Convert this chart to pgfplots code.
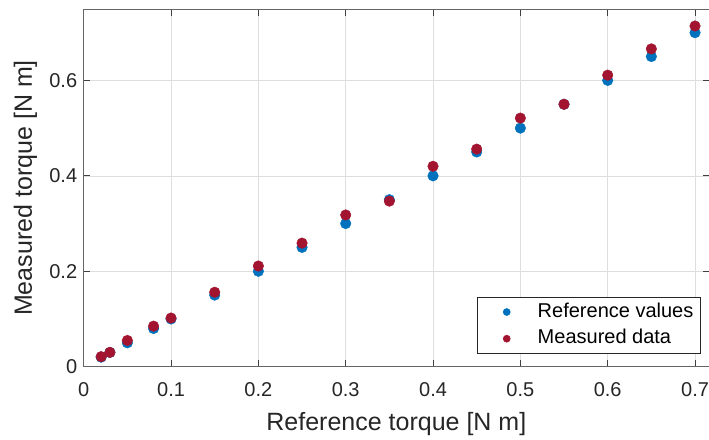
\documentclass[border=0pt]{standalone}
\usepackage{fontspec}
\setmainfont{Liberation Sans}
\usepackage{pgfplots}
\pgfplotsset{compat=1.18}
\definecolor{mblue}{rgb}{0,0.447,0.741}
\definecolor{mred}{rgb}{0.635,0.078,0.184}
\definecolor{axgray}{gray}{0.15}
\definecolor{gridgray}{gray}{0.87}
\begin{document}
\begin{tikzpicture}
\useasboundingbox (-83.7pt,-72.3pt) rectangle (625.3pt,366.7pt);
\begin{axis}[
  at={(0,0)}, anchor=south west,
  scale only axis, width=625.3pt, height=357.4pt,
  xmin=0, xmax=0.716, ymin=0, ymax=0.749,
  xtick={0,0.1,0.2,0.3,0.4,0.5,0.6,0.7},
  ytick={0,0.2,0.4,0.6},
  xticklabels={0,0.1,0.2,0.3,0.4,0.5,0.6,0.7},
  yticklabels={0,0.2,0.4,0.6},
  tick label style={font=\fontsize{20}{24}\selectfont, text=axgray},
  xticklabel style={yshift=-12pt},
  yticklabel style={xshift=-3pt},
  label style={font=\fontsize{25}{30}\selectfont, text=axgray},
  xlabel={Reference torque [N m]},
  ylabel={Measured torque [N m]},
  xlabel style={at={(axis description cs:0.5,0)}, anchor=north, yshift=-42pt},
  ylabel style={at={(axis description cs:0,0.5)}, anchor=south, yshift=43pt},
  grid=major,
  major grid style={gridgray, line width=0.6pt},
  axis line style={draw=black!60, line width=0.8pt},
  tick style={draw=black!75, line width=0.8pt},
  tick align=inside,
  major tick length=6.5pt,
  legend style={at={(axis description cs:0.9867,0.0355)}, anchor=south east,
    draw=axgray, line width=0.6pt, font=\fontsize{20}{24}\selectfont,
    inner xsep=4pt, inner ysep=5pt, row sep=6.7pt,
    nodes={inner xsep=3pt, inner ysep=0pt, text height=15pt, text depth=5pt}},
  legend cell align=left,
  legend image code/.code={\path[draw=none,fill=none] (0pt,-4pt) rectangle (53.7pt,4pt); \draw[#1,mark size=3.5pt] plot coordinates {(25.7pt,0pt)};},
]
\addplot[only marks, mark=*, mark size=5.3pt, color=mblue, mark options={fill=mblue, draw=mblue}] coordinates {
(0.02,0.02) (0.03,0.03) (0.05,0.05) (0.08,0.08) (0.1,0.1) (0.15,0.15) (0.2,0.2) (0.25,0.25) (0.3,0.3) (0.35,0.35) (0.4,0.4) (0.45,0.45) (0.5,0.5) (0.55,0.55) (0.6,0.6) (0.65,0.65) (0.7,0.7)
};
\addlegendentry{Reference values}
\addplot[only marks, mark=*, mark size=5.3pt, color=mred, mark options={fill=mred, draw=mred}] coordinates {
(0.02,0.021) (0.03,0.03) (0.05,0.055) (0.08,0.085) (0.1,0.102) (0.15,0.156) (0.2,0.211) (0.25,0.259) (0.3,0.318) (0.35,0.347) (0.4,0.420) (0.45,0.456) (0.5,0.521) (0.55,0.550) (0.6,0.611) (0.65,0.666) (0.7,0.714)
};
\addlegendentry{Measured data}
\end{axis}
\end{tikzpicture}
\end{document}
